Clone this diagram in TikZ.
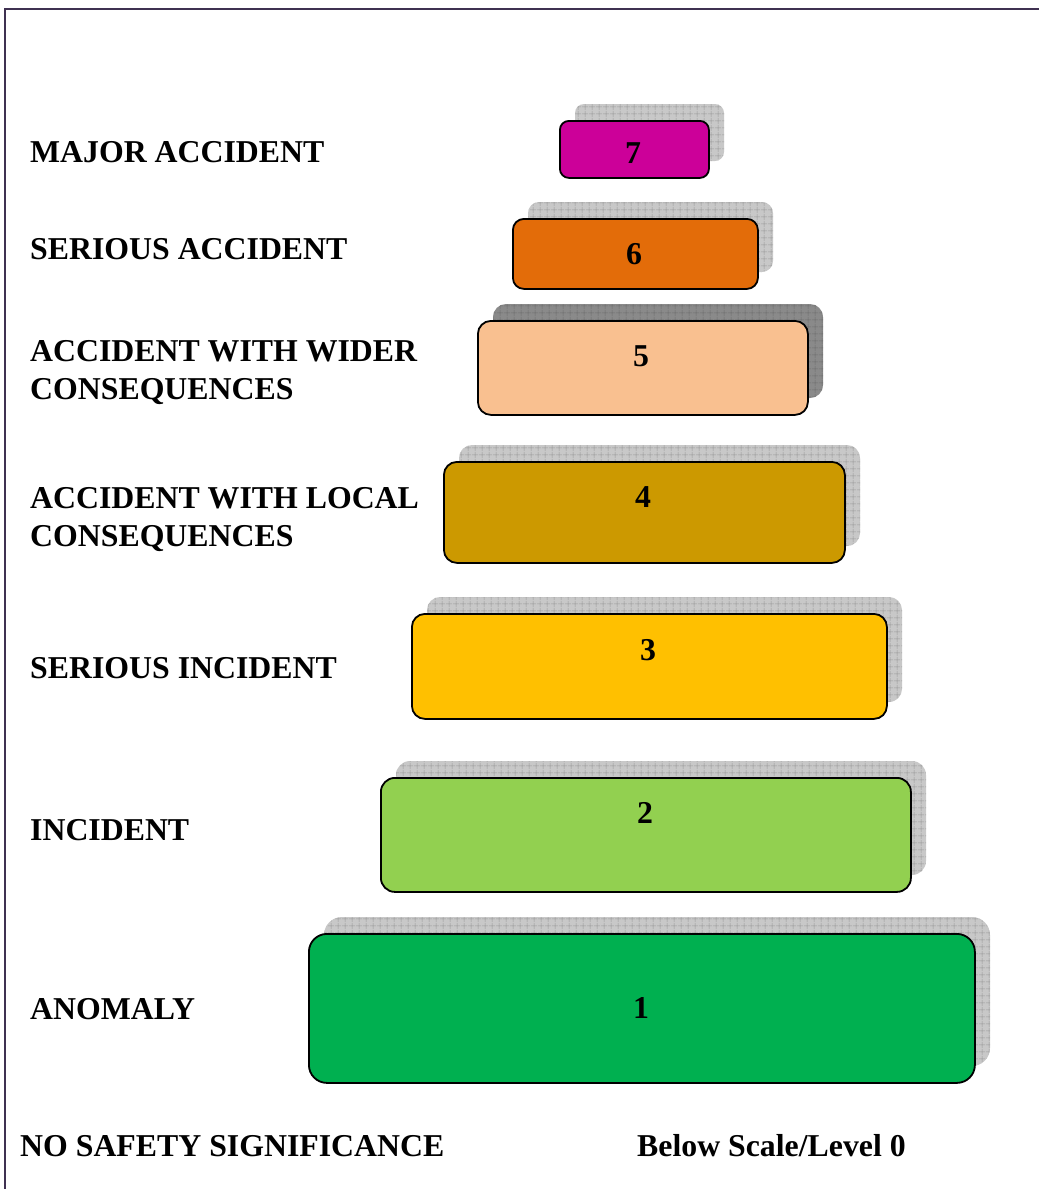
\documentclass[tikz,border=0pt]{standalone}
\usepackage{fontspec}
\setmainfont{Liberation Serif}
\usetikzlibrary{patterns.meta}
\definecolor{c7}{HTML}{CC0099}
\definecolor{c6}{HTML}{E36C09}
\definecolor{c5}{HTML}{F9C090}
\definecolor{c4}{HTML}{CC9900}
\definecolor{c3}{HTML}{FFC000}
\definecolor{c2}{HTML}{92D050}
\definecolor{c1}{HTML}{00B050}
\definecolor{framec}{HTML}{3F3151}
\definecolor{shlight}{HTML}{C8C8C8}
\definecolor{shlightgrid}{HTML}{9A9A9A}
\definecolor{shdark}{HTML}{8A8A8A}
\definecolor{shdarkgrid}{HTML}{6E6E6E}
\tikzset{
  lvl/.style={draw=black, line width=1.8pt, inner sep=0pt},
  grid pat/.style={pattern={Hatch[angle=0, distance=6.5pt, line width=0.5pt]}, pattern color=#1},
  caption/.style={font=\fontsize{31.8}{32}\selectfont\bfseries, anchor=base west, inner sep=0pt},
  digit/.style={font=\fontsize{31.8}{32}\selectfont\bfseries, anchor=base, inner sep=0pt},
}
% a level box and its offset shadow:
% #1 name, #2 fill, #3..#6 corners, #7 shadow fill, #8 shadow grid, #9 corner radius
\newcommand{\levelbox}[9]{%
  \path[fill=#7, rounded corners=#9] (#3+16,#4-16) rectangle (#5+16,#6-16);
  \path[grid pat=#8, rounded corners=#9] (#3+16,#4-16) rectangle (#5+16,#6-16);
  \node[lvl, fill=#2, rounded corners=#9, minimum width=#5-#3, minimum height=#6-#4, anchor=north west] (#1) at (#3,#4) {};
}
\begin{document}
\begin{tikzpicture}[x=1pt, y=-1pt]
\useasboundingbox (0,0) rectangle (1039,1189);
% outer frame (top and left edges)
\draw[framec, line width=2.6pt] (5,1189) -- (5,9) -- (1039,9);

% level boxes with their offset shadows
\levelbox{b7}{c7}{559}{120}{708}{177}{shlight}{shlightgrid}{9pt}
\levelbox{b6}{c6}{512}{218}{757}{288}{shlight}{shlightgrid}{11pt}
\levelbox{b5}{c5}{477}{320}{807}{414}{shdark}{shdarkgrid}{13pt}
\levelbox{b4}{c4}{443}{461}{844}{562}{shlight}{shlightgrid}{13pt}
\levelbox{b3}{c3}{411}{613}{886}{718}{shlight}{shlightgrid}{13pt}
\levelbox{b2}{c2}{380}{777}{910}{891}{shlight}{shlightgrid}{14pt}
\levelbox{b1}{c1}{308}{933}{974}{1082}{shlight}{shlightgrid}{18pt}

% level numbers
\node[digit] (n7) at (633,163) {7};
\node[digit] (n6) at (634,264) {6};
\node[digit] (n5) at (641,366) {5};
\node[digit] (n4) at (643,507) {4};
\node[digit] (n3) at (648,660) {3};
\node[digit] (n2) at (645,823) {2};
\node[digit] (n1) at (641,1018) {1};

% level names
\node[caption] (t7) at (30,162) {MAJOR ACCIDENT};
\node[caption] (t6) at (30,259) {SERIOUS ACCIDENT};
\node[caption] (t5a) at (30,361) {ACCIDENT WITH WIDER};
\node[caption] (t5b) at (30,399) {CONSEQUENCES};
\node[caption] (t4a) at (30,508) {ACCIDENT WITH LOCAL};
\node[caption] (t4b) at (30,546) {CONSEQUENCES};
\node[caption] (t3) at (30,678) {SERIOUS INCIDENT};
\node[caption] (t2) at (30,840) {INCIDENT};
\node[caption] (t1) at (30,1019) {ANOMALY};
\node[caption] (t0) at (20,1156) {NO SAFETY SIGNIFICANCE};
\node[caption] (t0b) at (637,1156) {Below Scale/Level 0};
\end{tikzpicture}
\end{document}
